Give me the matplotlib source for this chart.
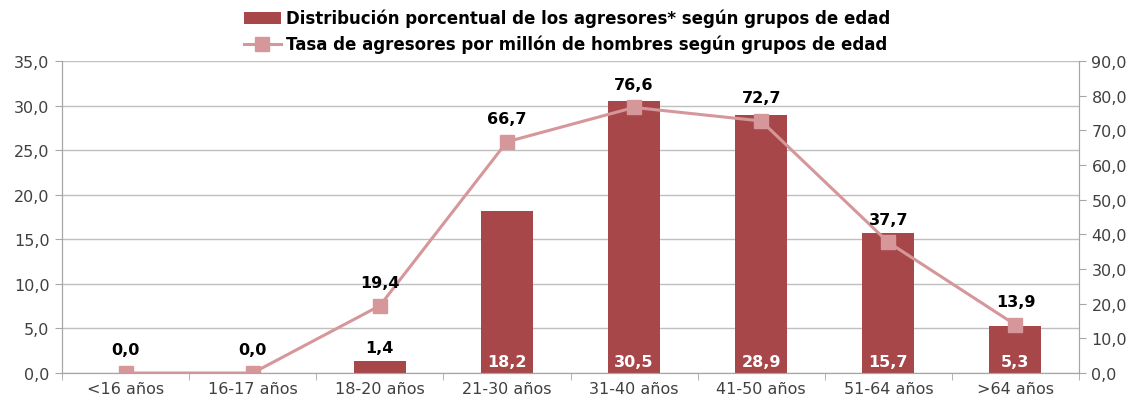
import matplotlib
matplotlib.use("Agg")
import matplotlib.pyplot as plt
import numpy as np

# datos
grupos = ["<16 años", "16-17 años", "18-20 años", "21-30 años",
          "31-40 años", "41-50 años", "51-64 años", ">64 años"]
distribucion = [0.0, 0.0, 1.4, 18.2, 30.5, 28.9, 15.7, 5.3]
tasa = [0.0, 0.0, 19.4, 66.7, 76.6, 72.7, 37.7, 13.9]

color_barra = "#A8474A"
color_linea = "#D59799"
gris = "#A6A6A6"

plt.rcParams['font.family'] = ['DejaVu Sans']


def coma(v):
    return f"{v:.1f}".replace(".", ",")


fig = plt.figure(figsize=(11.34, 4.02), dpi=100)
ax = fig.add_axes([62 / 1134, 28 / 402, (1079 - 62) / 1134, (374 - 62) / 402])
ax2 = ax.twinx()

x = np.arange(len(grupos))
barras = ax.bar(x, distribucion, width=0.41, color=color_barra, zorder=2,
                label="Distribución porcentual de los agresores* según grupos de edad")
linea, = ax2.plot(x, tasa, color=color_linea, lw=2.2, marker="s", ms=10,
                  label="Tasa de agresores por millón de hombres según grupos de edad")

ax.set_xlim(-0.5, len(grupos) - 0.5)
ax.set_ylim(0, 35)
ax2.set_ylim(0, 90)
ax.set_yticks(np.arange(0, 36, 5))
ax2.set_yticks(np.arange(0, 91, 10))
ax.set_yticklabels([coma(v) for v in np.arange(0, 36, 5)])
ax2.set_yticklabels([coma(v) for v in np.arange(0, 91, 10)])
ax.yaxis.grid(True, color="#BFBFBF", lw=1, zorder=0)
ax.set_axisbelow(True)

ax.set_xticks(x)
ax.set_xticklabels(grupos)
ax.set_xticks(np.arange(-0.5, len(grupos), 1), minor=True)
ax.tick_params(axis="x", which="major", length=0, pad=6)
ax.tick_params(axis="x", which="minor", length=5, color=gris)
ax.tick_params(axis="y", length=5, color=gris, pad=4)
ax2.tick_params(axis="y", length=5, color=gris, pad=4)
for a in (ax, ax2):
    for lab in a.get_xticklabels() + a.get_yticklabels():
        lab.set_fontsize(11.5)
        lab.set_color("#404040")
    a.spines["top"].set_visible(False)
    for s in ("left", "right", "bottom"):
        a.spines[s].set_color(gris)

# etiquetas de barras
for xi, v in zip(x, distribucion):
    if v >= 5:
        ax.text(xi, 1.3, coma(v), ha="center", va="center", color="white",
                fontsize=11.5, fontweight="bold", zorder=3)
    elif v > 0:
        ax.text(xi, v + 0.6, coma(v), ha="center", va="bottom", color="black",
                fontsize=11.5, fontweight="bold", zorder=3)

# etiquetas de la línea
for xi, v in zip(x, tasa):
    ax2.text(xi, v + 4.5, coma(v), ha="center", va="bottom", color="black",
             fontsize=11.5, fontweight="bold", zorder=4)

leg = fig.legend(handles=[barras, linea], loc="upper center",
                 bbox_to_anchor=(0.5, 1.0), ncol=1, frameon=False,
                 prop={"weight": "bold", "size": 12}, handlelength=2.2,
                 handletextpad=0.3, labelspacing=0.45, borderaxespad=0.2)

fig.savefig("out.png", dpi=100)
